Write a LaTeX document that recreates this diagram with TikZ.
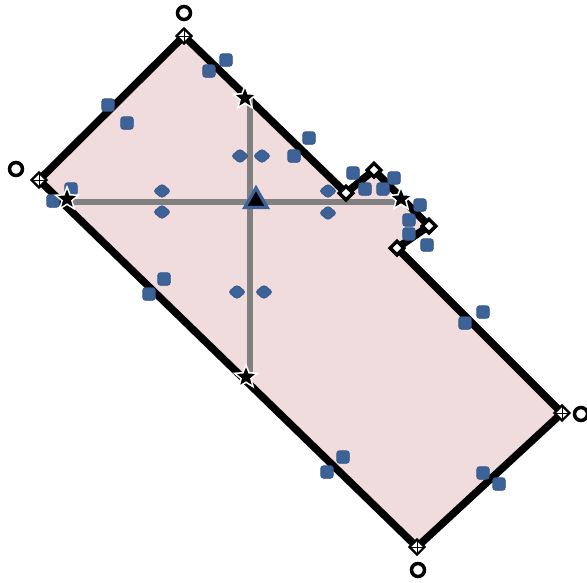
\documentclass[tikz,border=0pt]{standalone}
\usetikzlibrary{shapes.geometric}
\definecolor{platepink}{RGB}{240,220,220}
\definecolor{consblue}{RGB}{60,98,152}
\definecolor{axisgray}{RGB}{128,128,128}

\begin{document}
\begin{tikzpicture}[
  x=1pt, y=-1pt,
  outline/.style={draw=black, line width=7.5pt, fill=platepink, line join=miter},
  axis/.style={draw=axisgray, line width=6.5pt},
  cons/.style={fill=consblue, draw=consblue!85!black, line width=0.6pt, rounded corners=2.5pt, minimum size=12.5pt, inner sep=0pt},
  conspt/.style={cons, diamond, minimum width=18pt, minimum height=15pt, rounded corners=3pt},
  vertex/.style={diamond, draw=black, fill=white, line width=3.5pt, minimum size=15pt, inner sep=0pt},
  corner/.style={diamond, draw=black, fill=white, line width=2.2pt, minimum size=16pt, inner sep=0pt,
    path picture={\draw[line width=0.8pt] (path picture bounding box.north) -- (path picture bounding box.south)
      (path picture bounding box.west) -- (path picture bounding box.east);}},
  ring/.style={circle, draw=black, line width=3.5pt, minimum size=13pt, inner sep=0pt},
  endstar/.style={star, star points=5, star point ratio=2.3, fill=black, draw=white, line width=1.5pt, minimum size=24pt, inner sep=0pt},
  origin/.style={regular polygon, regular polygon sides=3, fill=black, draw=consblue, line width=3.2pt, minimum size=26pt, inner sep=0pt},
]
\useasboundingbox (0,0) rectangle (587,582);

% outline of the plate
\coordinate (top) at (184,36);
\coordinate (left) at (39,180);
\coordinate (bottom) at (417,547);
\coordinate (right) at (562,413);
\coordinate (n1) at (346,193);
\coordinate (n2) at (374,170);
\coordinate (n3) at (429,226);
\coordinate (n4) at (397,248);
\draw[outline] (top) -- (n1) -- (n2) -- (n3) -- (n4) -- (right) -- (bottom) -- (left) -- cycle;

% construction axes
\coordinate (hl) at (67,202);
\coordinate (hr) at (401,202);
\coordinate (vt) at (250,98);
\coordinate (vb) at (250,377);
\draw[axis] (hl) -- (hr);
\draw[axis] (vt) -- (vb);

% constraint icons
\foreach \p [count=\i] in {(226,60),(209,71),(108,105),(127,123),(309,138),(294,156),
    (71,189),(53,201),(353,173),(365,189),(383,189),(394,178),(420,205),(409,220),
    (409,234),(427,245),(164,279),(149,294),(483,312),(465,323),(343,457),(327,472),
    (483,473),(499,484)}
  \node[cons] (c\i) at \p {};
\foreach \p [count=\i] in {(240,156),(262,156),(162,191),(162,212),(328,191),(328,213),
    (237,292),(264,292)}
  \node[conspt] (p\i) at \p {};

% notch vertices
\node[vertex] (v1) at (n1) {};
\node[vertex] (v2) at (n2) {};
\node[vertex] (v3) at (n3) {};
\node[vertex] (v4) at (n4) {};

% corners and their labels
\node[corner] (kt) at (top) {};
\node[corner] (kl) at (left) {};
\node[corner] (kr) at (right) {};
\node[corner] (kb) at (bottom) {};
\node[ring] (rt) at (184,13) {};
\node[ring] (rl) at (16,169) {};
\node[ring] (rr) at (581,414) {};
\node[ring] (rb) at (418,570) {};

% axis ends and origin
\node[endstar] (sl) at (67,199) {};
\node[endstar] (sr) at (401,199) {};
\node[endstar] (st) at (245,98) {};
\node[endstar] (sb) at (246,377) {};
\node[origin] (org) at (256,201) {};
\end{tikzpicture}
\end{document}
